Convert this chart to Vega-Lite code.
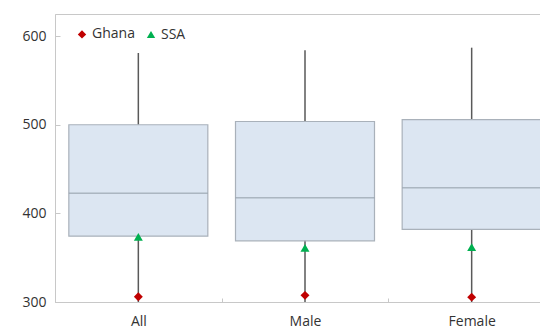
{
  "$schema": "https://vega.github.io/schema/vega-lite/v6.json",
  "autosize": {"type": "none"},
  "padding": {"left": 55, "top": 14, "right": 0, "bottom": 28},
  "width": 500,
  "height": 288,
  "background": "white",
  "config": {
    "font": "Open Sans",
    "view": {"stroke": "#c8c8c8", "strokeWidth": 1},
    "axis": {"labelFont": "Open Sans", "labelFontSize": 14, "labelColor": "#333333", "domainColor": "#c8c8c8", "tickColor": "#c8c8c8", "grid": false, "title": null}
  },
  "datasets": {
    "boxes": [
      {"group": "All", "min": 300, "q1": 374.3, "median": 422.6, "q3": 500, "max": 581},
      {"group": "Male", "min": 300, "q1": 369, "median": 417.7, "q3": 503.7, "max": 584},
      {"group": "Female", "min": 300, "q1": 381.9, "median": 429, "q3": 505.8, "max": 587}
    ],
    "points": [
      {"group": "All", "country": "Ghana", "score": 306},
      {"group": "Male", "country": "Ghana", "score": 307.5},
      {"group": "Female", "country": "Ghana", "score": 305.5},
      {"group": "All", "country": "SSA", "score": 373.5},
      {"group": "Male", "country": "SSA", "score": 361},
      {"group": "Female", "country": "SSA", "score": 362}
    ]
  },
  "encoding": {
    "x": {"field": "group", "type": "nominal", "sort": ["All", "Male", "Female"],
      "scale": {"paddingInner": 0, "paddingOuter": 0},
      "axis": {"labelAngle": 0, "tickBand": "extent", "tickSize": -4, "labelPadding": 16, "ticks": true}}
  },
  "layer": [
    {
      "data": {"name": "boxes"},
      "mark": {"type": "rule", "color": "#595959", "strokeWidth": 1.5},
      "encoding": {
        "y": {"field": "min", "type": "quantitative", "scale": {"domain": [300, 625], "nice": false, "zero": false},
          "axis": {"values": [300, 400, 500, 600], "tickSize": -5, "labelPadding": 14}},
        "y2": {"field": "max"}
      }
    },
    {
      "data": {"name": "boxes"},
      "mark": {"type": "bar", "size": 139, "fill": "#dce6f2", "stroke": "#a9b1ba", "strokeWidth": 1.2},
      "encoding": {
        "y": {"field": "q1", "type": "quantitative"},
        "y2": {"field": "q3"}
      }
    },
    {
      "data": {"name": "boxes"},
      "mark": {"type": "tick", "size": 139, "thickness": 1.5, "color": "#95a1ad"},
      "encoding": {
        "y": {"field": "median", "type": "quantitative"}
      }
    },
    {
      "data": {"name": "points"},
      "mark": {"type": "point", "filled": true, "opacity": 1, "size": 80},
      "encoding": {
        "y": {"field": "score", "type": "quantitative"},
        "color": {"field": "country", "type": "nominal",
          "scale": {"domain": ["Ghana", "SSA"], "range": ["#c00000", "#00b050"]},
          "legend": {"title": null, "orient": "none", "legendX": 20, "legendY": 13, "direction": "horizontal", "labelFontSize": 14, "labelColor": "#333333", "labelFont": "Open Sans", "symbolSize": 70, "columnPadding": 8, "labelOffset": 3, "symbolOpacity": 1}},
        "shape": {"field": "country", "type": "nominal",
          "scale": {"domain": ["Ghana", "SSA"], "range": ["diamond", "triangle-up"]}}
      }
    }
  ]
}
